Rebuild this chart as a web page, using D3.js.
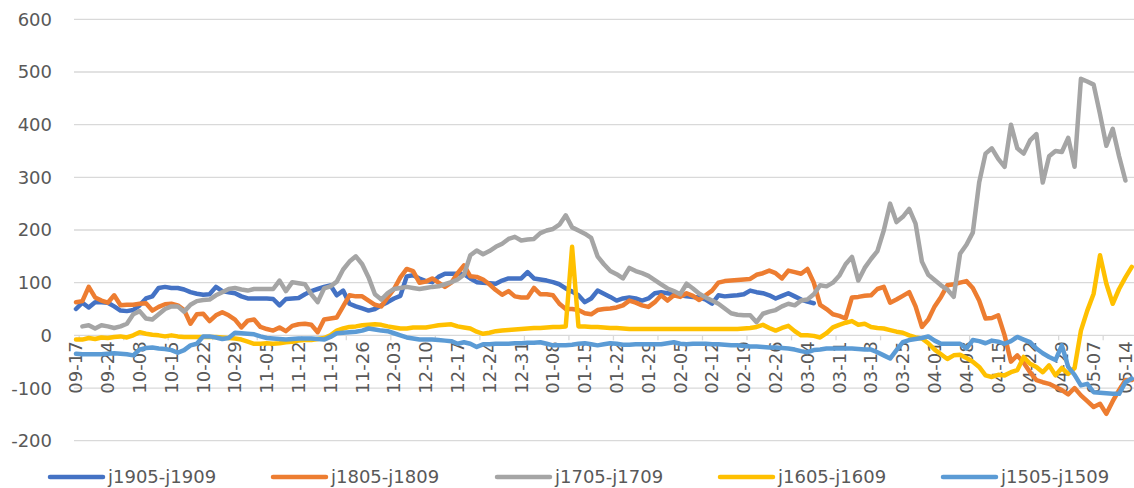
<!DOCTYPE html>
<html><head><meta charset="utf-8">
<script src="https://cdn.jsdelivr.net/npm/d3@7"></script>
<style>body{margin:0;background:#fff}svg{display:block}text{font-family:"DejaVu Sans",sans-serif}</style>
</head><body><svg id="c" width="1134" height="488"></svg>
<script>
const seriesNames = ["j1905-j1909","j1805-j1809","j1705-j1709","j1605-j1609","j1505-j1509"];
const seriesColors = ["#4472C4","#ED7D31","#A5A5A5","#FFC000","#5B9BD5"];

const j1905 = [50,62,53,63,63,62,55,47,46,48,
57,70,74,90,92,90,90,87,82,79,
77,78,92,84,82,80,74,70,70,70,
70,69,57,69,70,71,78,84,88,92,
95,76,85,60,55,51,47,50,57,63,
70,75,112,114,108,103,101,111,117,117,
117,116,108,101,100,99,98,104,108,108,
108,120,108,106,104,101,97,89,83,76,
63,70,85,79,73,66,70,72,70,66,
70,80,82,80,78,76,74,73,72,68,
60,76,74,75,76,78,85,82,80,76,
70,75,80,74,68,64,61];

const j1805 = [63,65,92,72,66,62,76,57,58,58,
60,61,47,54,59,60,57,48,22,40,
41,27,38,44,38,30,15,28,30,16,
12,9,15,8,18,21,22,20,6,30,
32,34,55,76,74,74,66,58,55,72,
88,110,126,122,100,102,108,100,92,100,
118,133,112,111,106,97,86,77,84,74,
72,72,90,78,78,76,60,50,50,48,
42,40,48,50,51,53,57,66,62,57,
54,63,76,66,76,73,80,75,67,76,
85,100,103,104,105,106,107,115,118,123,
118,108,123,120,117,126,100,58,50,40,
37,32,72,73,75,76,88,92,62,68,
75,82,55,16,30,55,73,95,97,100,
103,90,66,32,33,38,0,-50,-38,-52,
-70,-85,-89,-92,-98,-104,-112,-100,-114,-125,
-136,-130,-149,-125,-104,-85,-85];

const j1705 = [null,17,19,13,19,17,14,17,22,40,
46,32,30,40,50,55,55,45,58,65,
67,68,76,82,88,90,87,85,88,88,
88,88,104,84,101,99,97,78,63,89,
93,102,125,140,150,135,110,78,68,80,
88,90,92,90,88,90,92,93,97,101,
106,115,152,161,154,160,168,174,183,187,
180,182,183,194,199,202,210,228,205,199,
193,185,150,135,122,116,108,128,122,118,
113,105,97,89,84,78,98,89,79,72,
66,60,51,42,39,38,38,25,41,45,
48,55,60,57,66,68,78,95,93,100,
113,135,149,104,128,145,160,199,250,215,
225,240,212,140,115,105,95,87,73,155,
172,195,290,345,355,335,320,400,355,345,
370,382,290,340,350,348,375,320,487,482,
476,420,360,392,340,294];

const j1605 = [-8,-8,-5,-7,-4,-5,-3,-2,-4,0,
6,3,1,0,-2,0,-2,-3,-3,-3,
-3,-3,-3,-4,-5,-6,-8,-12,-16,-16,
-15,-16,-15,-13,-12,-10,-9,-9,-7,-5,
0,9,13,16,17,19,20,21,20,17,
15,13,13,15,15,15,17,19,20,21,
17,15,13,7,3,5,8,9,10,11,
12,13,14,14,15,16,16,17,168,17,
17,16,16,15,14,14,13,12,12,12,
12,12,12,12,12,12,12,12,12,12,
12,12,12,12,12,13,14,16,20,14,
9,14,18,8,0,0,-1,-4,4,15,
20,24,27,20,22,16,14,13,10,7,
5,0,-4,-6,-15,-27,-36,-45,-38,-37,
-43,-50,-60,-76,-79,-75,-76,-70,-66,-41,
-54,-60,-70,-57,-76,-62,-73,-62,9,47,
79,152,98,60,88,110,130];

const j1505 = [-35,-36,-36,-36,-36,-35,-34,-35,-36,-38,
-27,-24,-23,-25,-26,-28,-33,-28,-19,-16,
-2,-2,-4,-7,-5,5,4,3,2,-2,
-5,-6,-7,-8,-7,-6,-6,-6,-7,-8,
-3,4,5,6,7,9,13,11,9,8,
4,0,-4,-6,-8,-8,-8,-9,-10,-11,
-16,-13,-16,-22,-17,-17,-16,-16,-16,-15,
-15,-14,-14,-13,-16,-19,-19,-19,-18,-16,
-15,-17,-19,-17,-15,-16,-18,-18,-17,-17,
-17,-17,-17,-15,-13,-16,-17,-16,-16,-16,
-17,-17,-18,-19,-19,-20,-21,-21,-22,-23,
-23,-24,-25,-27,-30,-32,-28,-27,-25,-25,
-25,-25,-25,-26,-27,-27,-32,-38,-44,-28,
-13,-9,-7,-5,-2,-10,-16,-16,-16,-16,
-25,-9,-11,-15,-10,-12,-16,-11,-3,-8,
-13,-25,-34,-41,-47,-19,-60,-75,-95,-92,
-108,-109,-110,-111,-111,-89,-82];

const tickLabels = ["09-17","09-24","10-08","10-15","10-22","10-29","11-05","11-12","11-19","11-26","12-03","12-10","12-17","12-24","12-31","01-08","01-15","01-22","01-29","02-05","02-12","02-19","02-26","03-04","03-11","03-18","03-25","04-01","04-08","04-15","04-22","04-29","05-07","05-14"];
const labelStep = 5;
const tickStep = 7;
const yTicks = [-200,-100,0,100,200,300,400,500,600];
const nCats = 167;

const series = [j1905,j1805,j1705,j1605,j1505];

const svg = d3.select("#c");
const x = d3.scaleLinear().domain([0, nCats-1]).range([76, 1131.8]);
const y = d3.scaleLinear().domain([-200, 600]).range([440.7, 19.3]);

// gridlines
svg.append("g").selectAll("line").data(yTicks).join("line")
  .attr("x1", 74).attr("x2", 1134)
  .attr("y1", d => y(d)).attr("y2", d => y(d))
  .attr("stroke", "#D9D9D9").attr("stroke-width", 1.3);

// y labels
svg.append("g").selectAll("text").data(yTicks).join("text")
  .attr("x", 52).attr("y", d => y(d)).attr("dy", "0.36em")
  .attr("text-anchor", "end").attr("font-size", 18).attr("fill", "#595959")
  .text(d => d);

// category tick marks on the zero axis
const tickIdx = d3.range(1, nCats, tickStep);
svg.append("g").selectAll("line").data(tickIdx).join("line")
  .attr("x1", d => x(d - 0.5)).attr("x2", d => x(d - 0.5))
  .attr("y1", y(0)).attr("y2", y(0) + 5)
  .attr("stroke", "#D9D9D9").attr("stroke-width", 1.3);

// x labels
svg.append("g").selectAll("text").data(tickLabels).join("text")
  .attr("transform", (d, k) => `translate(${x(k * labelStep)},${y(0) + 6}) rotate(-90)`)
  .attr("dy", "0.35em").attr("text-anchor", "end")
  .attr("font-size", 18).attr("fill", "#595959")
  .text(d => d);

// lines
const line = d3.line().defined(d => d[1] != null)
  .x(d => x(d[0])).y(d => y(d[1]));
series.forEach((s, k) => {
  svg.append("path")
    .datum(s.map((v, i) => [i, v]))
    .attr("d", line)
    .attr("fill", "none")
    .attr("stroke", seriesColors[k])
    .attr("stroke-width", 4.5)
    .attr("stroke-linejoin", "round")
    .attr("stroke-linecap", "round");
});

// legend
const legX = [50, 273, 497, 720, 943];
const lg = svg.append("g").selectAll("g").data(seriesNames).join("g")
  .attr("transform", (d, k) => `translate(${legX[k]},477)`);
lg.append("line").attr("x1", 0).attr("x2", 53).attr("y1", 0).attr("y2", 0)
  .attr("stroke", (d, k) => seriesColors[k]).attr("stroke-width", 4.5).attr("stroke-linecap", "round");
lg.append("text").attr("x", 58).attr("dy", "0.36em").attr("font-size", 18).attr("fill", "#595959")
  .text(d => d);
</script>
</body></html>
